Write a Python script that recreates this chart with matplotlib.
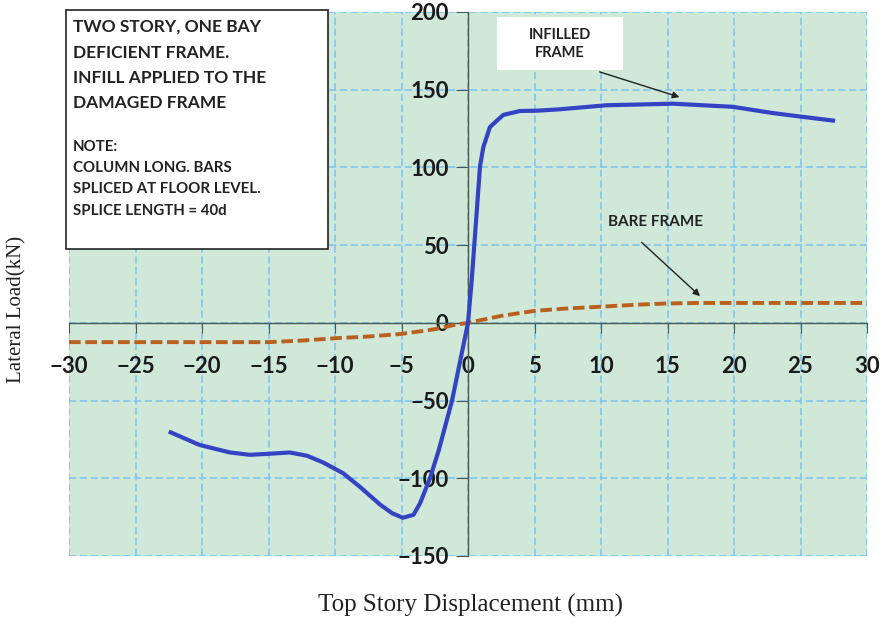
import numpy as np
import matplotlib
matplotlib.use("Agg")
import matplotlib.pyplot as plt
from matplotlib.patches import Rectangle

# infilled frame curve
infill_x = [-22.5, -20.2, -17.9, -16.4, -14.9, -13.4, -12.1, -10.9, -9.4, -8.1,
            -6.6, -5.7, -4.9, -4.1, -3.6, -2.86, -2.2, -1.2, -0.6, 0.0,
            0.28, 0.65, 0.9, 1.15, 1.65, 2.65, 3.9, 5.2, 6.9,
            10.4, 15.4, 19.9, 22.9, 25.2, 27.6]
infill_y = [-69.9, -78.5, -83.4, -84.9, -84.2, -83.4, -85.5, -89.8, -96.7, -105.7,
            -117, -122.5, -125.4, -123.5, -116, -100, -82, -50, -25, 0,
            27.6, 70.7, 100.5, 113, 126, 133.8, 136.3, 136.5, 137.4,
            140, 141, 139, 135, 132.5, 130]

# bare frame curve
bare_x = [-30, -25, -20, -15, -12.5, -10, -7.5, -5, -2.5, -1, 0,
          2.5, 5, 7.5, 10, 12.5, 15, 17.5, 20, 25, 30]
bare_y = [-12.4, -12.4, -12.4, -12.4, -11.4, -9.9, -8.8, -7.1, -4.1, -1.3, 0,
          4.5, 7.7, 9.3, 10.4, 11.6, 12.5, 12.8, 12.8, 12.8, 12.8]

x_ticks = [-30, -25, -20, -15, -10, -5, 0, 5, 10, 15, 20, 25, 30]
y_ticks = [-150, -100, -50, 0, 50, 100, 150, 200]

note_big = ["TWO STORY, ONE BAY", "DEFICIENT FRAME.", "INFILL APPLIED TO THE", "DAMAGED FRAME"]
note_small = ["NOTE:", "COLUMN LONG. BARS", "SPLICED AT FLOOR LEVEL.", "SPLICE LENGTH = 40d"]

fig = plt.figure(figsize=(8.89, 6.25), dpi=100)
ax = fig.add_axes([69 / 889, 1 - 556 / 625, 798 / 889, 544 / 625])
ax.set_facecolor("#cfe8d7")

ax.plot(bare_x, bare_y, color="#b9601f", lw=2.8, dashes=(3, 1.2), zorder=3)
ax.plot(infill_x, infill_y, color="#3442c4", lw=3, zorder=4,
        solid_capstyle="butt", solid_joinstyle="round")

ax.set_xlim(-30, 30)
ax.set_ylim(-150, 200)
ax.set_xticks(x_ticks)
ax.set_yticks(y_ticks)
ax.set_xticklabels([str(v).replace("-", "\u2212") for v in x_ticks])
ax.set_yticklabels([str(v).replace("-", "\u2212") for v in y_ticks])

ax.grid(True, color="#86c8ef", lw=1.3, linestyle=(0, (4, 2)))
ax.set_axisbelow(True)

for s in ["top", "right"]:
    ax.spines[s].set_visible(False)
ax.spines["left"].set_position(("data", 0))
ax.spines["bottom"].set_position(("data", 0))
for s in ["left", "bottom"]:
    ax.spines[s].set_color("#4a5a50")
    ax.spines[s].set_linewidth(1)
    ax.spines[s].set_zorder(2)

ax.tick_params(axis="x", direction="out", length=7, color="#4a5a50", pad=17, labelsize=16)
ax.tick_params(axis="y", direction="out", length=9, color="#4a5a50", pad=5, labelsize=16)
for lab in ax.get_xticklabels() + ax.get_yticklabels():
    lab.set_fontfamily("Lato")
    lab.set_fontweight("bold")
    lab.set_color("#1a1a1a")

# note box in the top-left corner
ax.add_patch(Rectangle((-0.004, 0.564), 0.329, 0.44, transform=ax.transAxes,
                       facecolor="white", edgecolor="#222222", lw=1.2,
                       clip_on=False, zorder=6))
big_y = [27, 53, 78, 103]
small_y = [147, 168, 189, 211]
for txt, py in zip(note_big, big_y):
    ax.text((73 - 69) / 798, (556 - py) / 544, txt, transform=ax.transAxes,
            family="Lato", weight="bold", size=12.5, va="center", ha="left",
            color="#222222", zorder=7)
for txt, py in zip(note_small, small_y):
    ax.text((73 - 69) / 798, (556 - py) / 544, txt, transform=ax.transAxes,
            family="Lato", weight="bold", size=10.8, va="center", ha="left",
            color="#222222", zorder=7)

# curve labels with arrows
ax.add_patch(Rectangle((2.2, 162.7), 9.45, 34.1, facecolor="white", edgecolor="none", zorder=5))
ax.text(6.9, 179.4, "INFILLED\nFRAME", ha="center", va="center", family="Lato",
        weight="bold", size=10.5, color="#222222", linespacing=1.4, zorder=6)
ax.annotate("", xy=(16.1, 144.7), xytext=(9.7, 162),
            arrowprops=dict(arrowstyle="-|>", color="#222222", lw=1, mutation_scale=10), zorder=6)

ax.text(14.1, 65, "BARE FRAME", ha="center", va="center", family="Lato",
        weight="bold", size=11, color="#222222", zorder=6)
ax.annotate("", xy=(17.6, 16), xytext=(12.9, 53),
            arrowprops=dict(arrowstyle="-|>", color="#222222", lw=1, mutation_scale=10), zorder=6)

fig.text(470 / 889, 1 - 605 / 625, "Top Story Displacement (mm)", ha="center", va="center",
         family="Liberation Serif", size=18, color="#222222")
fig.text(17 / 889, 1 - 309 / 625, "Lateral Load(kN)", ha="center", va="center",
         rotation=90, family="Liberation Serif", size=15, color="#222222")

fig.savefig("out.png", dpi=100)
